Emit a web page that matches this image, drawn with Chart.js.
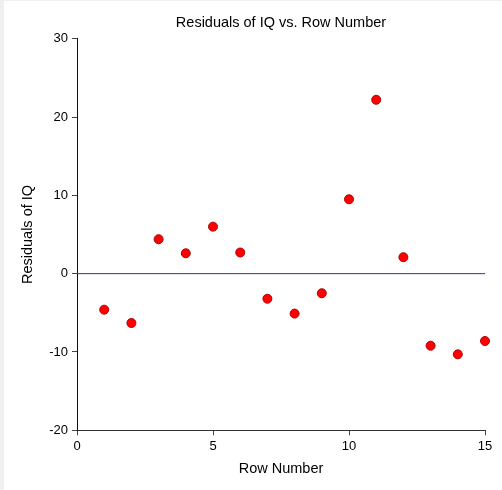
<!DOCTYPE html>
<html>
<head>
<meta charset="utf-8">
<title>Residuals of IQ vs. Row Number</title>
<script src="https://cdn.jsdelivr.net/npm/chart.js@4/dist/chart.umd.min.js"></script>
<style>
  body { margin: 0; background: #f0f0f0; }
  #wrap { position: absolute; left: 4px; top: 1px; width: 498px; height: 489px; background: #fff; }
</style>
</head>
<body>
<div id="wrap"><canvas id="residChart" width="498" height="489"></canvas></div>
<script>
// values
const rowNumbers = [1, 2, 3, 4, 5, 6, 7, 8, 9, 10, 11, 12, 13, 14, 15];
const residuals = [-4.6, -6.3, 4.4, 2.6, 6.0, 2.7, -3.2, -5.1, -2.5, 9.5, 22.2, 2.1, -9.2, -10.3, -8.6];
const xTicks = [0, 5, 10, 15];
const yTicks = [-20, -10, 0, 10, 20, 30];

const FONT = "'Liberation Sans', Arial, sans-serif";

// title centred over the plot area (Chart.js centres its own title on the canvas)
const plotTitle = {
  id: "plotTitle",
  afterDraw(chart) {
    const { ctx, chartArea } = chart;
    ctx.save();
    ctx.font = "14.5px " + FONT;
    ctx.fillStyle = "#000";
    ctx.textAlign = "center";
    ctx.textBaseline = "middle";
    ctx.fillText("Residuals of IQ vs. Row Number", (chartArea.left + chartArea.right) / 2, 21.5);
    ctx.restore();
  },
};

const points = rowNumbers.map((x, i) => ({ x: x, y: residuals[i] }));
const xMin = xTicks[0], xMax = xTicks[xTicks.length - 1];
const yMin = yTicks[0], yMax = yTicks[yTicks.length - 1];

new Chart(document.getElementById("residChart"), {
  type: "scatter",
  data: {
    datasets: [
      {
        label: "Residuals",
        data: points,
        backgroundColor: "#ff0000",
        borderColor: "#b00000",
        borderWidth: 1,
        pointRadius: 4.5,
        clip: false,
        order: 0,
      },
      {
        type: "line",
        label: "zero",
        data: [{ x: xMin, y: 0 }, { x: xMax, y: 0 }],
        borderColor: "#3030b0",
        borderWidth: 1,
        pointRadius: 0,
        fill: false,
        order: 1,
      },
    ],
  },
  options: {
    responsive: false,
    animation: false,
    layout: { padding: { top: 37.7, right: 17, left: 0, bottom: 0 } },
    plugins: {
      legend: { display: false },
      tooltip: { enabled: false },
      title: { display: false },
    },
    scales: {
      x: {
        type: "linear",
        min: xMin,
        max: xMax,
        afterBuildTicks(scale) {
          scale.ticks = xTicks.map((v) => ({ value: v }));
        },
        afterFit(scale) {
          scale.height = 59.7;
        },
        ticks: { color: "#000", padding: 3, font: { family: FONT, size: 13 } },
        grid: { drawOnChartArea: false, drawTicks: true, tickLength: 5, color: "#444" },
        border: { color: "#333", width: 1 },
        title: {
          display: true,
          text: "Row Number",
          color: "#000",
          font: { family: FONT, size: 14.5 },
          padding: { top: 0, bottom: 12 },
        },
      },
      y: {
        type: "linear",
        min: yMin,
        max: yMax,
        afterBuildTicks(scale) {
          scale.ticks = yTicks.map((v) => ({ value: v }));
        },
        afterFit(scale) {
          scale.width = 73;
        },
        ticks: { color: "#000", padding: 4, font: { family: FONT, size: 13 } },
        grid: { drawOnChartArea: false, drawTicks: true, tickLength: 5, color: "#444" },
        border: { color: "#111", width: 1 },
        title: {
          display: true,
          text: "Residuals of IQ",
          color: "#000",
          font: { family: FONT, size: 14.5 },
          padding: { top: 15, bottom: 0 },
        },
      },
    },
  },
  plugins: [plotTitle],
});
</script>
</body>
</html>
